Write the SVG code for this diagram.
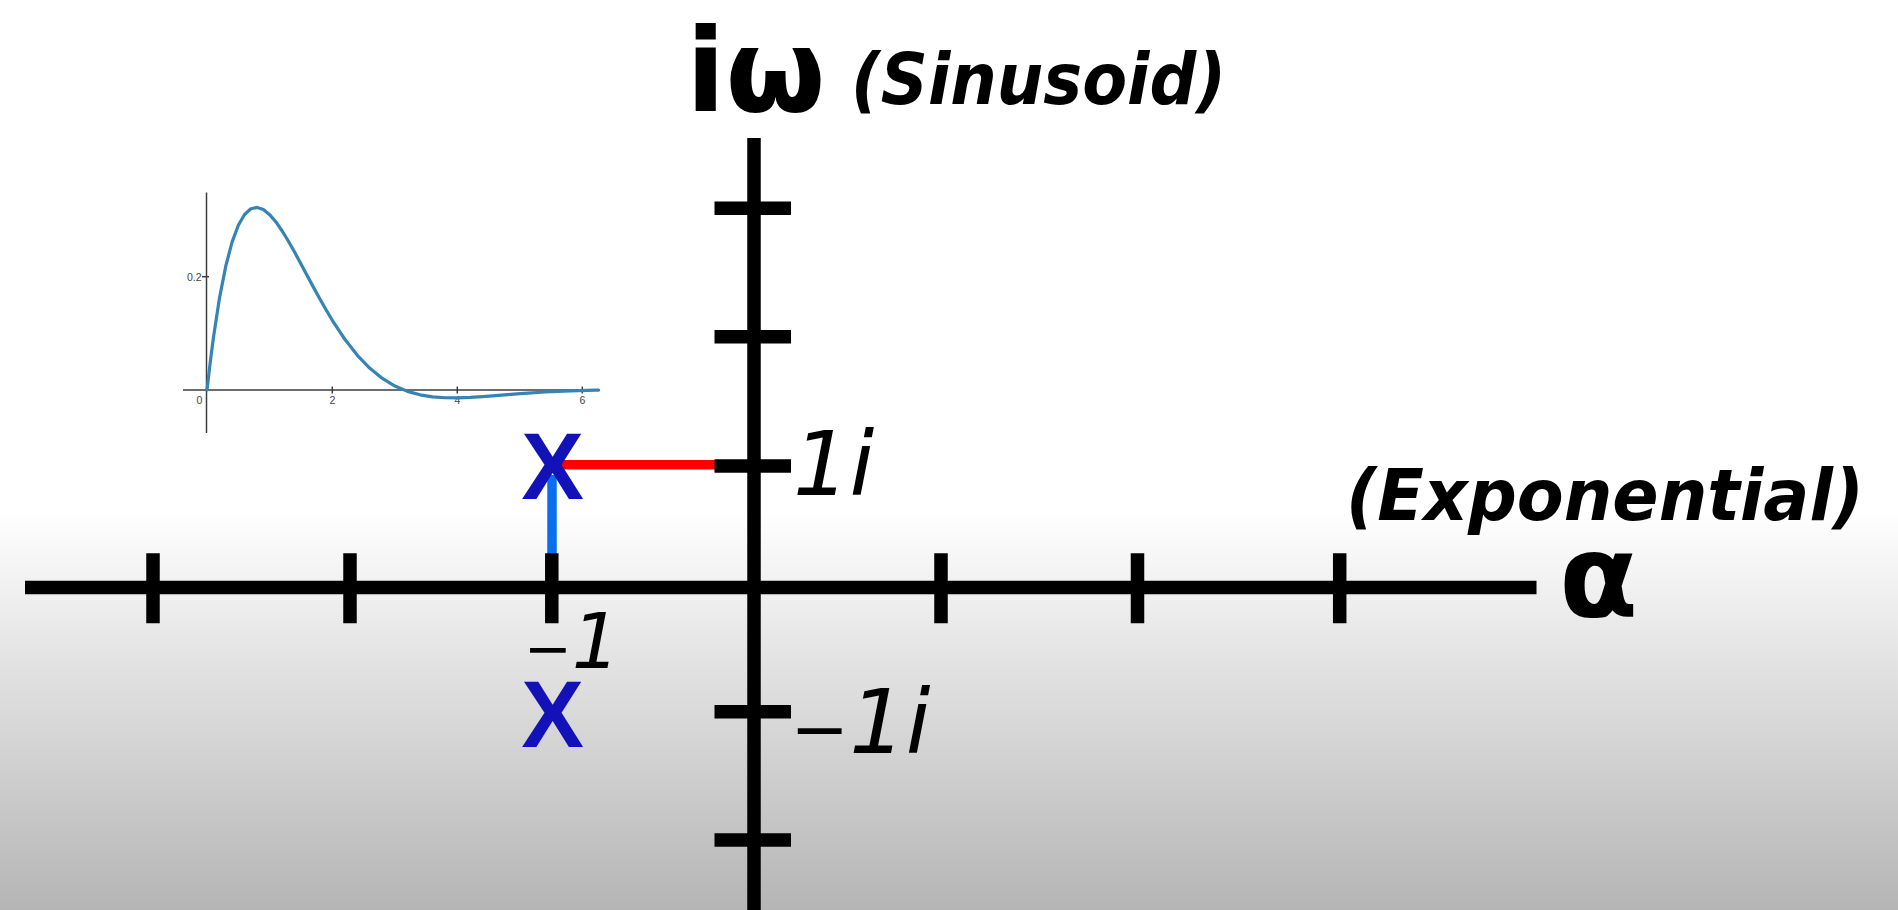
<svg xmlns="http://www.w3.org/2000/svg" width="1898" height="910" viewBox="0 0 1898 910">
<defs>
<linearGradient id="bg" gradientUnits="userSpaceOnUse" x1="0" y1="0" x2="0" y2="910">
<stop offset="0" stop-color="#ffffff"/>
<stop offset="0.56" stop-color="#ffffff"/>
<stop offset="1" stop-color="#b5b5b5"/>
</linearGradient>
<style>
.ax{stroke:#000;stroke-width:13.5;fill:none}
.tk{stroke:#000;stroke-width:13.5;fill:none}
.big{font-family:"DejaVu Sans",sans-serif;font-weight:bold;font-size:115px;fill:#000}
.word{font-family:"DejaVu Sans",sans-serif;font-weight:bold;font-style:oblique;font-size:72px;fill:#000}
.lab{font-family:"DejaVu Sans",sans-serif;font-style:oblique;fill:#000}
.mark{font-family:"Liberation Sans",Arial,sans-serif;font-weight:bold;font-size:94px;fill:#1212b8;text-anchor:middle}
.pl{stroke:#3c3c3c;stroke-width:1.5;fill:none}
.pt{font-family:"Liberation Sans",Arial,sans-serif;font-size:10.5px;fill:#444}
</style>
</defs>
<rect id="background" x="0" y="0" width="1898" height="910" fill="url(#bg)"/>

<g id="inset-plot">
<line class="pl" x1="183" y1="390" x2="600" y2="390"/>
<line class="pl" x1="206.5" y1="192.5" x2="206.5" y2="433"/>
<line class="pl" x1="332.3" y1="386.5" x2="332.3" y2="393.5"/>
<line class="pl" x1="457.3" y1="386.5" x2="457.3" y2="393.5"/>
<line class="pl" x1="582.3" y1="386.5" x2="582.3" y2="393.5"/>
<line class="pl" x1="202" y1="276.7" x2="209" y2="276.7"/>
<text class="pt" x="201.5" y="280.5" text-anchor="end">0.2</text>
<text class="pt" x="199.5" y="404" text-anchor="middle">0</text>
<text class="pt" x="332.3" y="404" text-anchor="middle">2</text>
<text class="pt" x="457.3" y="404" text-anchor="middle">4</text>
<text class="pt" x="582.3" y="404" text-anchor="middle">6</text>
<polyline fill="none" stroke="#3683b5" stroke-width="3.2" stroke-linejoin="round" stroke-linecap="round" points="207,390 210.13,363.07 213.27,338.83 219.53,297.85 225.8,265.98 232.06,242.12 238.33,225.27 244.59,214.45 250.86,208.77 257.12,207.4 263.39,209.58 269.65,214.63 275.92,221.94 282.18,230.97 288.45,241.24 294.71,252.33 300.98,263.91 307.24,275.67 313.51,287.37 319.77,298.81 326.04,309.82 332.3,320.29 344.83,339.25 357.36,355.29 369.89,368.31 382.42,378.46 394.95,386.02 407.48,391.35 420.01,394.83 432.54,396.85 445.07,397.75 457.6,397.85 470.13,397.4 482.66,396.62 495.19,395.66 507.72,394.64 520.25,393.66 545.31,391.98 570.37,390.8 595.43,390.1 598.6,390.05"/>
</g>

<g id="connectors">
<line id="real-axis" class="ax" x1="25" y1="587.5" x2="1536.5" y2="587.5"/>
<line id="imag-axis" class="ax" x1="754" y1="138" x2="754" y2="910"/>
<line id="blue-line" x1="552" y1="475" x2="552" y2="554" stroke="#0b6ef0" stroke-width="9.5"/>
<line id="red-line" x1="560" y1="464.8" x2="716" y2="464.8" stroke="#ff0000" stroke-width="9.5"/>
</g>

<g id="ticks">
<line class="tk" x1="153" y1="553.3" x2="153" y2="623.3"/>
<line class="tk" x1="350" y1="553.3" x2="350" y2="623.3"/>
<line class="tk" x1="551.8" y1="553.3" x2="551.8" y2="623.3"/>
<line class="tk" x1="941" y1="553.3" x2="941" y2="623.3"/>
<line class="tk" x1="1137.5" y1="553.3" x2="1137.5" y2="623.3"/>
<line class="tk" x1="1339.7" y1="553.3" x2="1339.7" y2="623.3"/>
<line class="tk" x1="714.5" y1="208.3" x2="791" y2="208.3"/>
<line class="tk" x1="714.5" y1="336.7" x2="791" y2="336.7"/>
<line class="tk" x1="714.5" y1="466" x2="791" y2="466"/>
<line class="tk" x1="714.5" y1="711.7" x2="791" y2="711.7"/>
<line class="tk" x1="714.5" y1="840" x2="791" y2="840"/>
</g>

<g id="axis-titles">
<text class="big" x="686" y="111">iω</text>
<text class="word" x="851" y="104" textLength="375" lengthAdjust="spacingAndGlyphs">(Sinusoid)</text>
<text class="word" x="1346" y="520" textLength="518" lengthAdjust="spacingAndGlyphs">(Exponential)</text>
<text class="big" x="1559" y="616">α</text>
</g>

<g id="tick-labels">
<text class="lab" x="793" y="495" font-size="89">1i</text>
<text class="lab" x="790.6" y="753" font-size="89"><tspan font-size="70">−</tspan>1i</text>
<text class="lab" x="524" y="668" font-size="76"><tspan font-size="57">−</tspan>1</text>
</g>

<g id="poles">
<text id="pole-upper" class="mark" x="552.5" y="499.3">X</text>
<text id="pole-lower" class="mark" x="552.5" y="746.7">X</text>
</g>
</svg>
